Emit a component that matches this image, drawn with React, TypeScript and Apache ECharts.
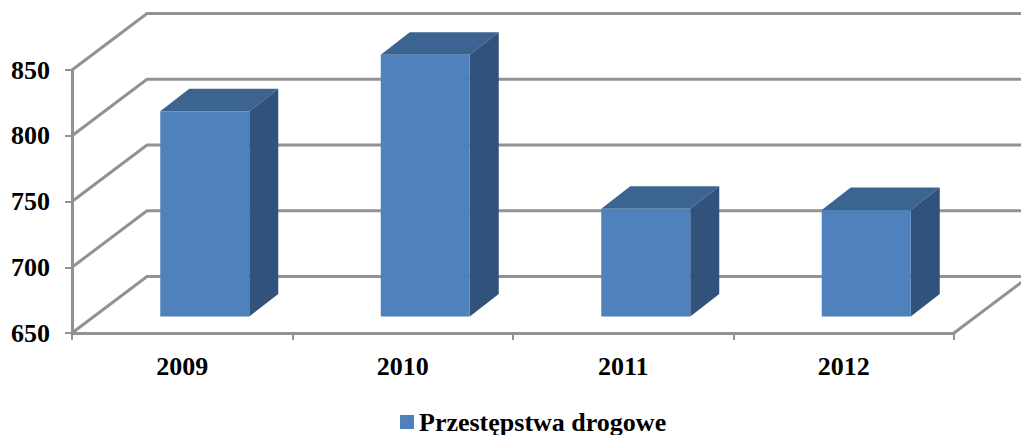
import React, { useEffect, useRef } from "react";
import * as echarts from "echarts";

const categories = ["2009", "2010", "2011", "2012"];
const seriesName = "Przestępstwa drogowe";
const values = [806, 849, 732, 731];
const yTicks = [650, 700, 750, 800, 850];

const GRID = { left: 72, right: 67, top: 70, bottom: 102 };
const WALL_DX = 75;
const WALL_DY = -56.5;
const BAR_SHIFT_X = 22.5;
const BAR_SHIFT_Y = -16.5;
const BAR_WIDTH = 89;
const BAR_DX = 29;
const BAR_DY = -22.5;
const LINE = "#929292";
const FRONT = "#4f81bd";
const TOP = "#3c6491";
const SIDE = "#31527b";
const FONT = "'Liberation Serif', 'Times New Roman', serif";

function renderWall(params: any, api: any) {
  const v = api.value(0);
  const [x0, y0] = api.coord([0, v]);
  const left = x0 - api.size([1, 0])[0] / 2;
  const style = { stroke: LINE, lineWidth: 3, fill: "none" };
  const children: any[] = [
    {
      type: "polyline",
      shape: { points: [[left, y0], [left + WALL_DX, y0 + WALL_DY], [1030, y0 + WALL_DY]] },
      style,
    },
  ];
  if (params.dataIndex === 0) {
    const right = left + api.size([1, 0])[0] * categories.length;
    children.push({
      type: "line",
      shape: { x1: right, y1: y0, x2: right + WALL_DX, y2: y0 + WALL_DY },
      style,
    });
  }
  return { type: "group", children };
}

function renderBar(_params: any, api: any) {
  const cat = api.value(0);
  const [cx, topY] = api.coord([cat, api.value(1)]);
  const [, baseY] = api.coord([cat, yTicks[0]]);
  const x1 = cx + BAR_SHIFT_X - BAR_WIDTH / 2;
  const x2 = x1 + BAR_WIDTH;
  const y1 = topY + BAR_SHIFT_Y;
  const y2 = baseY + BAR_SHIFT_Y;
  return {
    type: "group",
    children: [
      {
        type: "polygon",
        shape: { points: [[x1, y1], [x1 + BAR_DX, y1 + BAR_DY], [x2 + BAR_DX, y1 + BAR_DY], [x2, y1]] },
        style: { fill: TOP },
      },
      {
        type: "polygon",
        shape: { points: [[x2, y1], [x2 + BAR_DX, y1 + BAR_DY], [x2 + BAR_DX, y2 + BAR_DY], [x2, y2]] },
        style: { fill: SIDE },
      },
      { type: "rect", shape: { x: x1, y: y1, width: BAR_WIDTH, height: y2 - y1 }, style: { fill: FRONT } },
    ],
  };
}

export default function App() {
  const ref = useRef<HTMLDivElement>(null);
  useEffect(() => {
    const chart = echarts.init(ref.current!, undefined, { renderer: "svg" });
    chart.setOption({
      animation: false,
      backgroundColor: "#ffffff",
      grid: GRID,
      legend: {
        data: [{ name: seriesName, icon: "rect" }],
        left: 400,
        top: 409,
        padding: 0,
        itemWidth: 14,
        itemHeight: 14,
        itemGap: 0,
        selectedMode: false,
        textStyle: { fontFamily: FONT, fontWeight: "bold", fontSize: 26, color: "#000", padding: [0, 0, 0, 0] },
      },
      xAxis: {
        type: "category",
        data: categories,
        axisLine: { lineStyle: { color: LINE, width: 3 } },
        axisTick: { show: true, length: 7, lineStyle: { color: LINE, width: 2 } },
        axisLabel: { fontFamily: FONT, fontWeight: "bold", fontSize: 26, color: "#000", margin: 20 },
        splitLine: { show: false },
      },
      yAxis: {
        type: "value",
        min: 650,
        max: 850,
        interval: 50,
        axisLine: { show: true, lineStyle: { color: LINE, width: 3 } },
        axisTick: { show: true, length: 7, lineStyle: { color: LINE, width: 2 } },
        axisLabel: { fontFamily: FONT, fontWeight: "bold", fontSize: 26, color: "#000", margin: 22 },
        splitLine: { show: false },
      },
      series: [
        {
          type: "custom",
          name: "walls",
          renderItem: renderWall,
          clip: false,
          silent: true,
          z: 1,
          data: yTicks.map((v) => [v]),
          encode: { y: 0 },
        },
        {
          type: "custom",
          name: seriesName,
          renderItem: renderBar,
          clip: false,
          z: 3,
          itemStyle: { color: FRONT },
          data: values.map((v, i) => [i, v]),
          encode: { x: 0, y: 1 },
        },
      ],
    });
    return () => chart.dispose();
  }, []);
  return <div ref={ref} style={{ position: "fixed", left: 0, top: 0, width: 1021, height: 435 }} />;
}
